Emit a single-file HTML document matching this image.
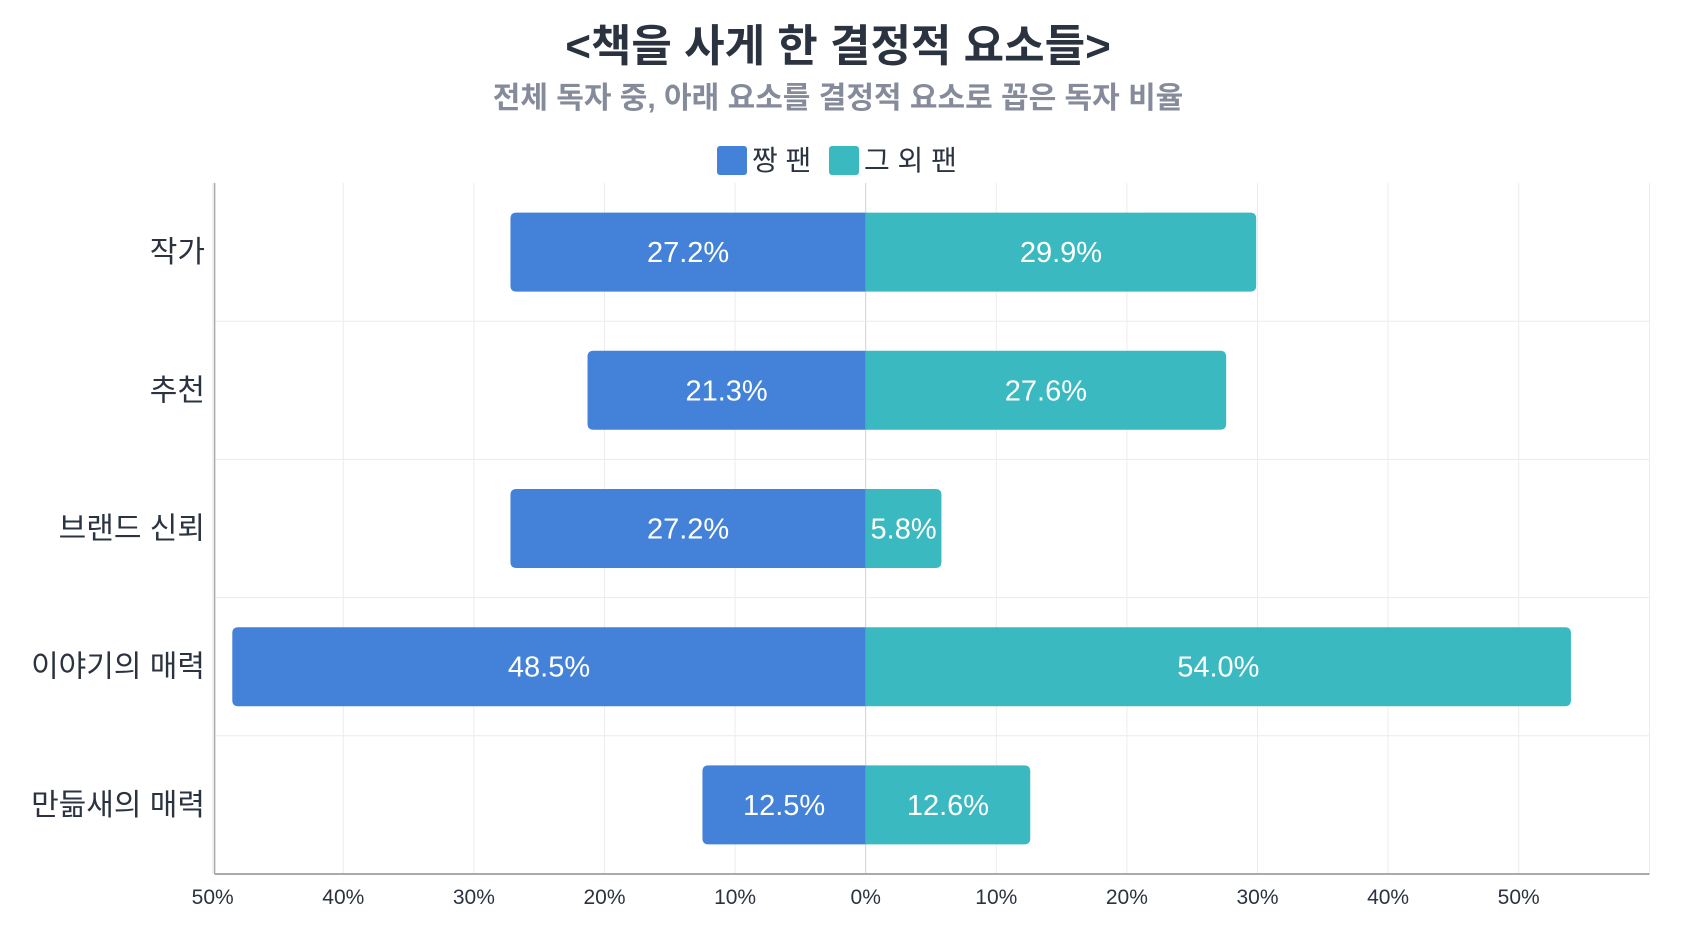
<!DOCTYPE html>
<html><head><meta charset="utf-8"><style>
html,body{margin:0;padding:0;background:#fff;}
body{width:1682px;height:936px;overflow:hidden;font-family:"Liberation Sans","Noto Sans CJK KR",sans-serif;}
</style></head><body>
<svg id="chart" width="1682" height="936" xmlns="http://www.w3.org/2000/svg" font-family="Liberation Sans, Noto Sans CJK KR, sans-serif">
<text x="838" y="61" text-anchor="middle" font-size="44" font-weight="bold" fill="#2b3340">&lt;책을 사게 한 결정적 요소들&gt;</text>
<text x="838" y="108" text-anchor="middle" font-size="30" font-weight="bold" fill="#858b9b">전체 독자 중, 아래 요소를 결정적 요소로 꼽은 독자 비율</text>
<g>
<rect x="717" y="146" width="30" height="29" rx="3" fill="#4382d8"/>
<text x="752" y="170" font-size="28" fill="#2b3340">짱 팬</text>
<rect x="829" y="146" width="30" height="29" rx="3" fill="#3bb9c1"/>
<text x="864" y="170" font-size="28" fill="#2b3340">그 외 팬</text>
</g>
<g id="grid"></g><g id="bars"></g><g id="axes"></g>
</svg>
<script>
const categories=["작가","추천","브랜드 신뢰","이야기의 매력","만듦새의 매력"];
const jjangFan=[27.2,21.3,27.2,48.5,12.5];
const otherFan=[29.9,27.6,5.8,54.0,12.6];
const tickValues=[-50,-40,-30,-20,-10,0,10,20,30,40,50];
const tickLabels=["50%","40%","30%","20%","10%","0%","10%","20%","30%","40%","50%"];
const NS="http://www.w3.org/2000/svg";
const L=214.6,R=1649.5,T=183,B=874,X0=865.7,PX=13.06;
const x=v=>X0+v*PX;
const band=(B-T)/categories.length;
const yc=i=>T+band*(i+0.5);
const BH=79;
function mk(tag,attrs,parent){const e=document.createElementNS(NS,tag);for(const k in attrs)e.setAttribute(k,attrs[k]);parent.appendChild(e);return e;}
const grid=document.getElementById('grid'),bars=document.getElementById('bars'),axes=document.getElementById('axes');
tickValues.forEach((t,i)=>{
  const g=mk('line',{x1:x(t),x2:x(t),y1:T,y2:B,stroke:t===0?'#d0d0d0':'#ececec','stroke-width':1},grid);
  
  
  const tl=mk('text',{x:x(t),y:B+30,'text-anchor':'middle','font-size':21,fill:'#2b3340'},axes);
  tl.textContent=tickLabels[i];
  
  
});
mk('line',{x1:R,x2:R,y1:T,y2:B,stroke:'#ececec'},grid);
for(let i=1;i<categories.length;i++){
  const h=mk('line',{x1:L,x2:R,y1:T+band*i,y2:T+band*i,stroke:'#ececec'},grid);
  
  
}
categories.forEach((c,i)=>{
  const y=yc(i);
  const w1=jjangFan[i]*PX, w2=otherFan[i]*PX;
  const p1=mk('path',{d:`M${X0},${y-BH/2} H${X0-w1+6} Q${X0-w1},${y-BH/2} ${X0-w1},${y-BH/2+6} V${y+BH/2-6} Q${X0-w1},${y+BH/2} ${X0-w1+6},${y+BH/2} H${X0} Z`,fill:'#4382d8'},bars);
  
  
  const p2=mk('path',{d:`M${X0},${y-BH/2} H${X0+w2-6} Q${X0+w2},${y-BH/2} ${X0+w2},${y-BH/2+6} V${y+BH/2-6} Q${X0+w2},${y+BH/2} ${X0+w2-6},${y+BH/2} H${X0} Z`,fill:'#3bb9c1'},bars);
  
  
  const t1=mk('text',{x:X0-w1/2,y:y+10,'text-anchor':'middle','font-size':29,fill:'#fff'},bars);
  t1.textContent=jjangFan[i].toFixed(1)+'%';
  
  
  const t2=mk('text',{x:X0+w2/2,y:y+10,'text-anchor':'middle','font-size':29,fill:'#fff'},bars);
  t2.textContent=otherFan[i].toFixed(1)+'%';
  
  
  const cl=mk('text',{x:205,y:y+10,'text-anchor':'end','font-size':30,fill:'#2b3340'},axes);
  cl.textContent=c;
  
  
});
const ya=mk('line',{x1:L,x2:L,y1:T,y2:B,stroke:'#aaaaaa','stroke-width':1.5},axes);


const xa=mk('line',{x1:L,x2:R,y1:B,y2:B,stroke:'#aaaaaa','stroke-width':2},axes);


</script>
</body></html>
